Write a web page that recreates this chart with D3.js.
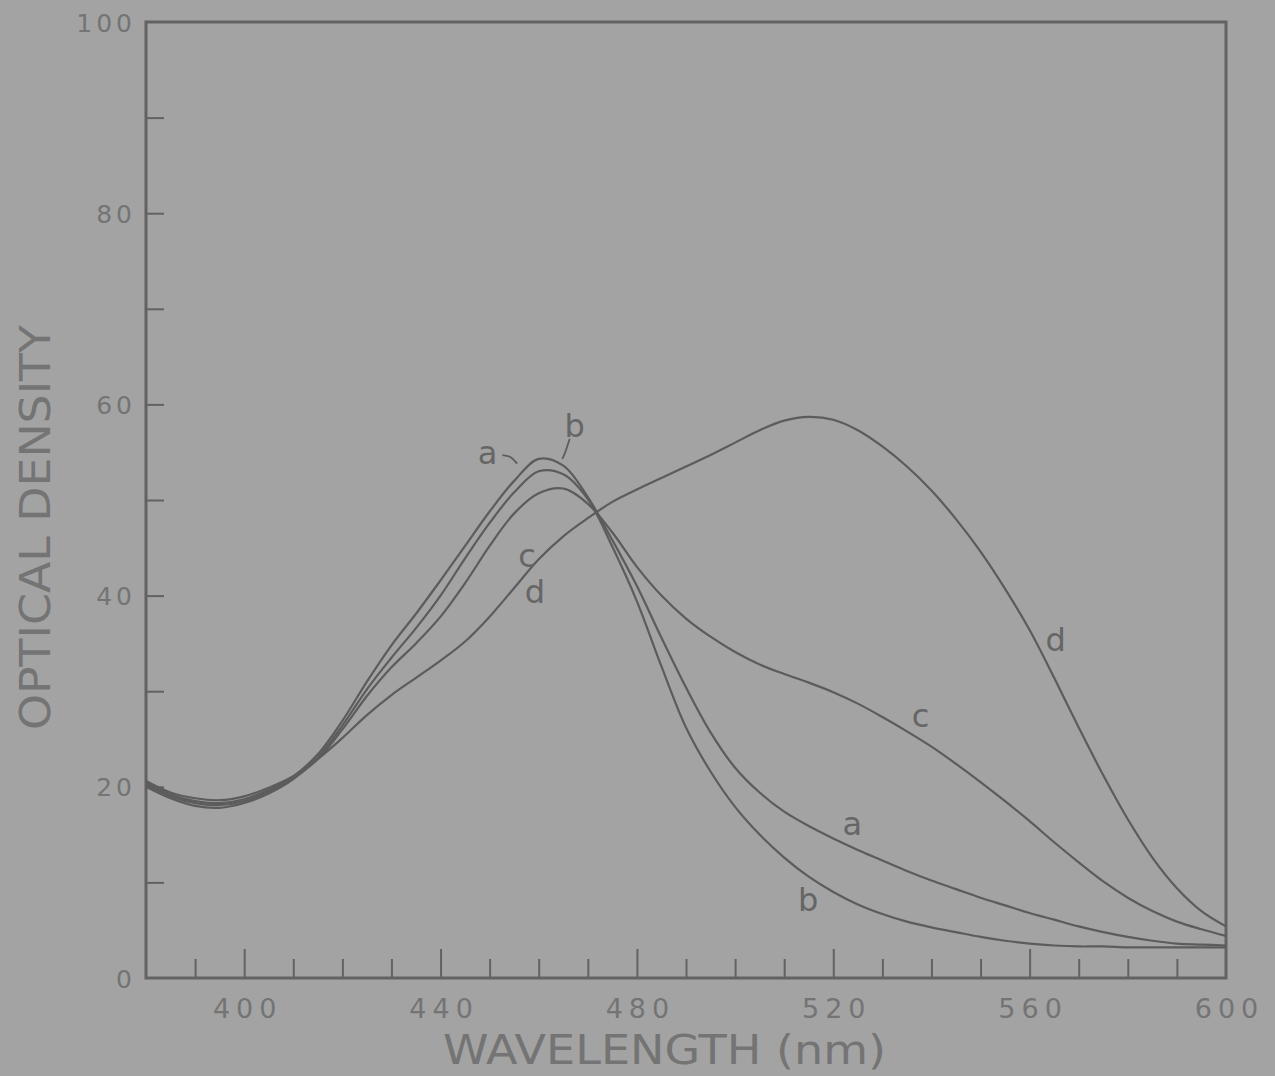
<!DOCTYPE html>
<html>
<head>
<meta charset="utf-8">
<script src="https://cdn.jsdelivr.net/npm/d3@7"></script>
<style>
  html, body { margin: 0; padding: 0; background: #a3a3a3; }
  svg { display: block; }
</style>
</head>
<body>
<svg id="chart" width="1275" height="1076"></svg>
<script>
// ---------- data ----------
const wavelengths = [380,385,390,395,400,405,410,415,420,425,430,435,440,445,450,455,460,465,470,475,480,485,490,495,500,505,510,515,520,525,530,535,540,545,550,555,560,565,570,575,580,585,590,595,600];

const seriesA = [20.4,19.2,18.5,18.3,18.7,19.7,21.1,23.4,26.9,31.0,34.8,38.1,41.6,45.2,48.8,52.0,54.3,53.6,50.3,45.8,41.0,35.6,30.4,25.7,22.0,19.4,17.4,15.9,14.6,13.4,12.3,11.2,10.2,9.3,8.4,7.6,6.8,6.1,5.4,4.8,4.3,3.9,3.6,3.5,3.4];
const seriesB = [20.0,18.8,18.0,17.8,18.3,19.3,20.8,23.1,26.4,30.2,33.5,36.6,40.0,43.9,47.6,50.8,53.0,52.7,50.1,45.1,39.4,32.6,26.2,21.6,17.9,15.0,12.6,10.6,9.0,7.7,6.7,5.9,5.3,4.8,4.3,3.9,3.6,3.4,3.3,3.3,3.2,3.2,3.2,3.2,3.2];
const seriesC = [20.2,19.0,18.3,18.1,18.5,19.5,20.9,22.9,26.0,29.5,32.5,35.0,37.8,41.3,45.2,48.6,50.7,51.2,49.6,46.6,43.0,40.0,37.6,35.7,34.1,32.8,31.8,30.9,29.9,28.7,27.3,25.8,24.2,22.4,20.5,18.5,16.4,14.2,12.1,10.1,8.4,7.0,5.9,5.1,4.4];
const seriesD = [20.6,19.4,18.8,18.6,19.0,19.9,21.1,22.9,25.1,27.5,29.6,31.4,33.2,35.2,37.8,40.8,43.8,46.2,48.1,49.8,51.1,52.3,53.5,54.7,56.0,57.3,58.3,58.7,58.4,57.3,55.6,53.5,51.0,48.0,44.6,40.7,36.4,31.4,26.2,21.2,16.6,12.6,9.4,7.0,5.4];

const seriesList = [seriesA, seriesB, seriesC, seriesD];

// curve labels (text, wavelength, optical density)
const labelText = ["a","b","c","d","d","c","a","b"];
const labelWave = [449.6,467.3,457.6,459.2,565.3,537.8,523.9,514.9];
const labelOD   = [55.0,57.8,44.2,40.4,35.4,27.5,16.2,8.2];

// leader lines for labels a and b (wavelength, OD pairs)
const leaderA = [[452.6,54.7],[454.2,54.5],[455.6,53.8]];
const leaderB = [[466.3,56.4],[465.4,55.0],[464.8,54.3]];

const xTickValues = [400,440,480,520,560,600];
const xMinorTicks = d3.range(390, 600, 10);
const yTickValues = [0,20,40,60,80,100];
const yMinorTicks = d3.range(10, 100, 10);

const xTitle = "WAVELENGTH (nm)";
const yTitle = "OPTICAL DENSITY";

// ---------- layout ----------
const svg = d3.select("#chart");
const plotLeft = 146, plotRight = 1226, plotTop = 22, plotBottom = 978;
const ink = "#626262";
const textInk = "#747474";

const x = d3.scaleLinear().domain([380, 600]).range([plotLeft, plotRight]);
const y = d3.scaleLinear().domain([0, 100]).range([plotBottom, plotTop]);

svg.append("rect").attr("width", 1275).attr("height", 1076).attr("fill", "#a3a3a3");

// minor + major x ticks (inward)
svg.append("g")
  .attr("transform", `translate(0,${plotBottom})`)
  .call(d3.axisTop(x).tickValues(xMinorTicks).tickSize(20).tickFormat(""))
  .call(g => g.select(".domain").remove())
  .call(g => g.selectAll("line").attr("stroke", ink).attr("stroke-width", 2)
      .attr("y2", d => (d % 40 === 0 ? -29 : -19)));

// y ticks (inward)
svg.append("g")
  .attr("transform", `translate(${plotLeft},0)`)
  .call(d3.axisRight(y).tickValues(yMinorTicks).tickSize(18).tickFormat(""))
  .call(g => g.select(".domain").remove())
  .call(g => g.selectAll("line").attr("stroke", ink).attr("stroke-width", 2));

// x tick labels
svg.append("g")
  .attr("transform", `translate(0,${plotBottom})`)
  .call(d3.axisBottom(x).tickValues(xTickValues).tickSize(0).tickPadding(0))
  .call(g => g.select(".domain").remove())
  .call(g => g.selectAll("text")
      .attr("y", 40).attr("dy", 0)
      .attr("font-family", "DejaVu Sans, sans-serif")
      .attr("font-size", 27).attr("letter-spacing", 6)
      .attr("dx", 3)
      .attr("fill", textInk));

// y tick labels
svg.append("g")
  .attr("transform", `translate(${plotLeft},0)`)
  .call(d3.axisLeft(y).tickValues(yTickValues).tickSize(0).tickPadding(10))
  .call(g => g.select(".domain").remove())
  .call(g => g.selectAll("text")
      .attr("dy", "0.36em")
      .attr("font-family", "DejaVu Sans, sans-serif")
      .attr("font-size", 25).attr("letter-spacing", 4)
      .attr("fill", textInk));

// frame
svg.append("rect")
  .attr("x", plotLeft).attr("y", plotTop)
  .attr("width", plotRight - plotLeft).attr("height", plotBottom - plotTop)
  .attr("fill", "none").attr("stroke", ink).attr("stroke-width", 3);

// curves
const line = d3.line()
  .x((d, i) => x(wavelengths[i]))
  .y(d => y(d))
  .curve(d3.curveCatmullRom.alpha(0.5));

svg.append("g").selectAll("path")
  .data(seriesList)
  .join("path")
  .attr("d", line)
  .attr("fill", "none")
  .attr("stroke", "#5c5c5c")
  .attr("stroke-width", 2.2);

// leaders
const leaderLine = d3.line().x(d => x(d[0])).y(d => y(d[1])).curve(d3.curveCatmullRom);
svg.append("g").selectAll("path")
  .data([leaderA, leaderB])
  .join("path")
  .attr("d", leaderLine)
  .attr("fill", "none").attr("stroke", "#5c5c5c").attr("stroke-width", 1.8);

// curve labels
svg.append("g").selectAll("text")
  .data(labelText)
  .join("text")
  .attr("x", (d, i) => x(labelWave[i]))
  .attr("y", (d, i) => y(labelOD[i]))
  .attr("dy", "0.36em")
  .attr("text-anchor", "middle")
  .attr("font-family", "DejaVu Sans, sans-serif")
  .attr("font-size", 32)
  .attr("fill", "#666")
  .text(d => d);

// axis titles
svg.append("text")
  .attr("x", 443).attr("y", 1064)
  .attr("textLength", 443).attr("lengthAdjust", "spacingAndGlyphs")
  .attr("font-family", "DejaVu Sans, sans-serif")
  .attr("font-size", 40)
  .attr("fill", textInk)
  .text(xTitle);

svg.append("text")
  .attr("transform", "translate(50,730) rotate(-90)")
  .attr("x", 0).attr("y", 0)
  .attr("textLength", 405).attr("lengthAdjust", "spacingAndGlyphs")
  .attr("font-family", "DejaVu Sans, sans-serif")
  .attr("font-size", 43)
  .attr("fill", textInk)
  .text(yTitle);
</script>
</body>
</html>
